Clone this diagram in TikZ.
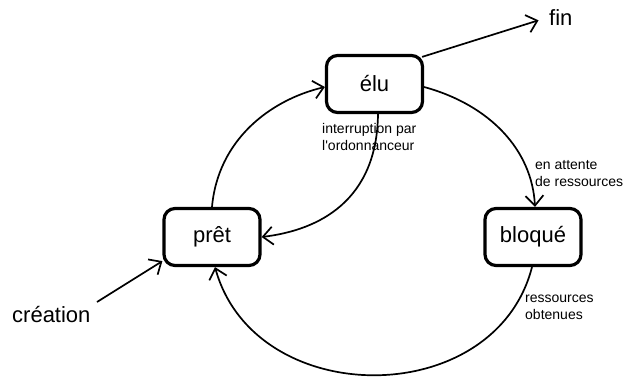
\documentclass[tikz,border=0pt]{standalone}
\usepackage{fontspec}
\newfontfamily\arialfont{Liberation Sans}
\usetikzlibrary{arrows.meta}
\begin{document}
\begin{tikzpicture}[x=1pt,y=1pt,
  state/.style={draw,line width=3.2pt,rounded corners=11pt,minimum width=96pt,minimum height=57pt,
    font=\arialfont\fontsize{22}{26}\selectfont,inner sep=0pt},
  big/.style={font=\arialfont\fontsize{22}{26}\selectfont,inner sep=0pt},
  small/.style={font=\arialfont\fontsize{14}{17}\selectfont,align=left,inner sep=0pt},
  arr/.style={line width=1.7pt,-{Straight Barb[length=10pt,width=18pt]}}
]
\useasboundingbox (0,0) rectangle (625,-380);
\node[state] (elu) at (374.5,-84) {élu};
\node[state] (prt) at (212,-237) {prêt};
\node[state] (blq) at (533,-237) {bloqué};
\node[big,anchor=base west] (fin) at (549,-25) {fin};
\node[big,anchor=base west] (cre) at (12,-322) {création};
\node[small,anchor=north west] (l1) at (322,-123.5) {interruption par\\l'ordonnanceur};
\node[small,anchor=north west] (l2) at (535,-160) {en attente\\de ressources};
\node[small,anchor=north west] (l3) at (525,-294.5) {ressources\\obtenues};
\coordinate (c0) at (97,-302);

\draw[arr,shorten >=11pt] ([xshift=-2pt,yshift=-3pt]elu.north east) -- (fin.west);
\draw[arr] (prt.north) .. controls (218,-140) and (270,-100) .. ([yshift=-3pt]elu.west);
\draw[arr] ([xshift=3.5pt]elu.south) .. controls (377,-200) and (320,-230) .. (prt.east);
\draw[arr] ([yshift=-3pt]elu.east) .. controls (490,-105) and (532,-150) .. ([xshift=2pt]blq.north);
\draw[arr] ([xshift=-1pt]blq.south) .. controls (495,-411) and (255,-411) .. ([xshift=3pt]prt.south);
\draw[arr] (c0) -- ([yshift=6pt]prt.south west);
\end{tikzpicture}
\end{document}
